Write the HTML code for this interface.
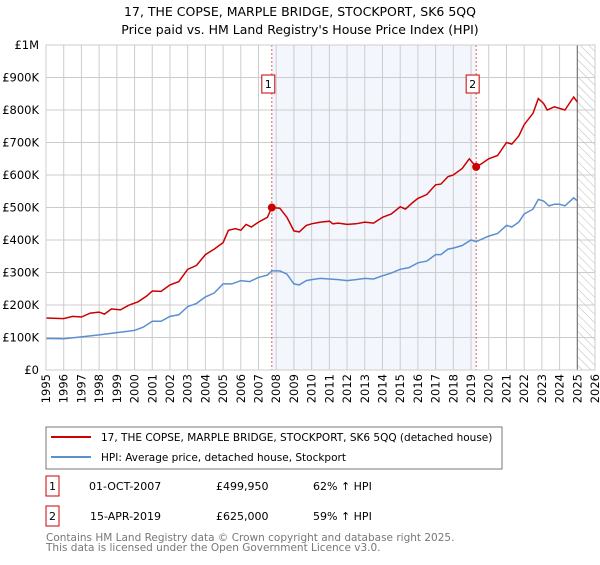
<!DOCTYPE html>
<html><head><meta charset="utf-8"><style>
body{margin:0;background:#fff;font-family:"Liberation Sans","DejaVu Sans",sans-serif}
svg text{font-family:"DejaVu Sans","Liberation Sans",sans-serif}
</style></head><body>
<svg id="c" width="600" height="560" xmlns="http://www.w3.org/2000/svg">
<text x="300" y="16" text-anchor="middle" font-size="12.5">17, THE COPSE, MARPLE BRIDGE, STOCKPORT, SK6 5QQ</text>
<text x="300" y="34" text-anchor="middle" font-size="12.5">Price paid vs. HM Land Registry's House Price Index (HPI)</text>
<g id="plot"></g>
<rect x="46" y="427" width="456" height="42" fill="#fff" stroke="#777"/>
<line x1="51" y1="437" x2="91" y2="437" stroke="#cc0000" stroke-width="2"/>
<text x="101" y="441" font-size="10.5">17, THE COPSE, MARPLE BRIDGE, STOCKPORT, SK6 5QQ (detached house)</text>
<line x1="51" y1="457" x2="91" y2="457" stroke="#5b8fd0" stroke-width="2"/>
<text x="101" y="461" font-size="10.5">HPI: Average price, detached house, Stockport</text>
<rect x="46" y="476" width="13" height="20" fill="none" stroke="#cc0000"/>
<text x="52.5" y="490" text-anchor="middle" font-size="11">1</text>
<text x="89" y="490" font-size="11">01-OCT-2007</text>
<text x="216" y="490" font-size="11">£499,950</text>
<text x="313" y="490" font-size="11">62% ↑ HPI</text>
<rect x="46" y="506" width="13" height="20" fill="none" stroke="#cc0000"/>
<text x="52.5" y="520" text-anchor="middle" font-size="11">2</text>
<text x="90" y="520" font-size="11">15-APR-2019</text>
<text x="216" y="520" font-size="11">£625,000</text>
<text x="313" y="520" font-size="11">59% ↑ HPI</text>
<text x="46" y="541" font-size="10.5" fill="#777">Contains HM Land Registry data © Crown copyright and database right 2025.</text>
<text x="46" y="551" font-size="10.5" fill="#777">This data is licensed under the Open Government Licence v3.0.</text>
</svg>
<script>
const yTicks=[0,100,200,300,400,500,600,700,800,900,1000];
const yTickLabels=["£0","£100K","£200K","£300K","£400K","£500K","£600K","£700K","£800K","£900K","£1M"];
const years=[1995,1996,1997,1998,1999,2000,2001,2002,2003,2004,2005,2006,2007,2008,2009,2010,2011,2012,2013,2014,2015,2016,2017,2018,2019,2020,2021,2022,2023,2024,2025,2026];
const priceT=[1995,1996,1996.5,1997,1997.5,1998,1998.3,1998.7,1999.2,1999.7,2000.2,2000.7,2001,2001.5,2002,2002.5,2003,2003.5,2004,2004.5,2005,2005.3,2005.7,2006,2006.3,2006.6,2007,2007.5,2007.75,2008.2,2008.6,2009,2009.3,2009.7,2010,2010.5,2011,2011.2,2011.5,2012,2012.5,2013,2013.5,2014,2014.5,2015,2015.3,2015.7,2016,2016.5,2017,2017.3,2017.7,2018,2018.5,2018.9,2019.29,2019.6,2020,2020.5,2021,2021.3,2021.7,2022,2022.5,2022.8,2023.1,2023.3,2023.7,2024,2024.3,2024.8,2025];
const priceV=[160,158,165,163,175,178,172,188,185,200,210,228,243,242,262,272,310,322,355,372,392,430,435,430,448,440,455,470,500,498,470,428,425,445,450,455,458,450,452,448,450,455,452,470,480,502,495,515,528,540,570,572,595,600,620,650,625,635,650,660,700,695,720,755,790,835,820,800,810,805,800,840,825];
const hpiT=[1995,1996,1997,1998,1999,2000,2000.5,2001,2001.5,2002,2002.5,2003,2003.5,2004,2004.5,2005,2005.5,2006,2006.5,2007,2007.5,2007.75,2008.2,2008.6,2009,2009.3,2009.7,2010,2010.5,2011,2011.5,2012,2012.5,2013,2013.5,2014,2014.5,2015,2015.5,2016,2016.5,2017,2017.3,2017.7,2018,2018.5,2019,2019.29,2019.7,2020,2020.5,2021,2021.3,2021.7,2022,2022.5,2022.8,2023.1,2023.4,2023.7,2024,2024.3,2024.8,2025];
const hpiV=[97,96,102,108,115,122,132,150,150,165,170,195,205,225,237,265,265,275,272,285,292,305,305,295,265,262,275,278,282,280,278,275,278,282,280,290,298,310,315,330,335,355,355,372,375,383,400,395,405,412,420,445,440,455,480,495,525,520,505,510,510,505,530,520];
const saleT=[2007.75,2019.29];
const saleV=[499.95,625];
const saleLabels=["1","2"];
const X0=46,X1=595,Y0=370,Y1=45;
const xs=t=>X0+(t-1995)/(2026-1995)*(X1-X0);
const ys=v=>Y0-v/1000*(Y0-Y1);
const NS="http://www.w3.org/2000/svg";
const g=document.getElementById('plot');
function mk(tag,a){const e=document.createElementNS(NS,tag);for(const k in a)e.setAttribute(k,a[k]);g.appendChild(e);return e;}
let e=mk('rect',{x:xs(saleT[0]),y:Y1,width:xs(saleT[1])-xs(saleT[0]),height:Y0-Y1,fill:'#eef3fc',opacity:0.7});


const defs=document.createElementNS(NS,'defs');defs.innerHTML='<pattern id="h" width="6" height="6" patternUnits="userSpaceOnUse" patternTransform="rotate(-45)"><line x1="0" y1="0" x2="0" y2="6" stroke="#bbb" stroke-width="1"/></pattern>';g.appendChild(defs);
e=mk('rect',{x:xs(2025),y:Y1,width:X1-xs(2025),height:Y0-Y1,fill:'url(#h)'});


years.forEach(y=>{const l=mk('line',{x1:xs(y),x2:xs(y),y1:Y1,y2:Y0,stroke:'#ccc'});


const t=mk('text',{x:0,y:0,'font-size':11.5,'text-anchor':'end',transform:`translate(${xs(y)+4},${Y0+4}) rotate(-90)`});t.textContent=y;

});
yTicks.forEach((v,i)=>{const l=mk('line',{x1:X0,x2:X1,y1:ys(v),y2:ys(v),stroke:'#ccc'});


const t=mk('text',{x:X0-7,y:ys(v)+4,'font-size':11.5,'text-anchor':'end'});t.textContent=yTickLabels[i];

});
e=mk('line',{x1:xs(2025),x2:xs(2025),y1:Y1,y2:Y0,stroke:'#666'});


saleT.forEach((t,i)=>{const l=mk('line',{x1:xs(t),x2:xs(t),y1:Y1,y2:Y0,stroke:'#e06060','stroke-dasharray':'2,2'});


const r=mk('rect',{x:xs(t)-10,y:75,width:13,height:18,fill:'#fff',stroke:'#cc0000'});


const tx=mk('text',{x:xs(t)-3.5,y:88,'font-size':11,'text-anchor':'middle'});tx.textContent=saleLabels[i];

});
function line(T,V,c,n){const p=mk('path',{d:T.map((t,i)=>(i?'L':'M')+xs(t).toFixed(1)+','+ys(V[i]).toFixed(1)).join(''),fill:'none',stroke:c,'stroke-width':1.5});

}
line(hpiT,hpiV,'#5b8fd0','hpi-line');
line(priceT,priceV,'#cc0000','price-line');
saleT.forEach((t,i)=>{const c=mk('circle',{cx:xs(t),cy:ys(saleV[i]),r:4,fill:'#cc0000'});

});
e=mk('rect',{x:X0,y:Y1,width:X1-X0,height:Y0-Y1,fill:'none',stroke:'#ccc'});


</script>
</body></html>
